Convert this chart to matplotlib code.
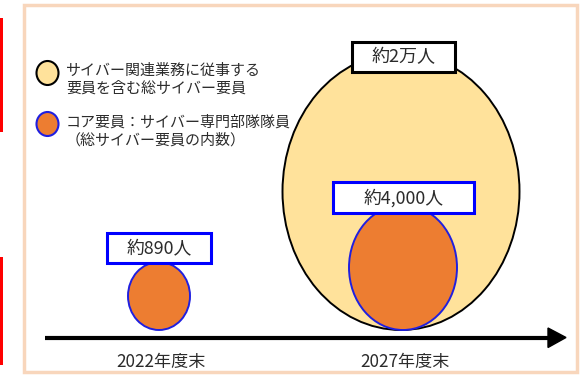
import matplotlib.pyplot as plt
from matplotlib.patches import Ellipse, Rectangle, Polygon

plt.rcParams["font.family"] = ["Noto Sans CJK JP", "DejaVu Sans"]

# データ
years = ["2022年度末", "2027年度末"]
core_staff = [890, 4000]          # コア要員
total_staff = [None, 20000]       # 総サイバー要員
core_labels = ["約890人", "約4,000人"]
total_labels = [None, "約2万人"]
legend_texts = [
    "サイバー関連業務に従事する\n要員を含む総サイバー要員",
    "コア要員：サイバー専門部隊隊員\n（総サイバー要員の内数）",
]

YELLOW = "#FFE29B"
ORANGE = "#ED7D31"
BLUE = "#1F1FE0"
TEXT = "#2B2B2B"

# 描画サイズ（ピクセル座標）
x_pos = [159, 403]
base_y = 330
core_size = [(62, 68), (108, 125)]
total_size = [None, (237, 277)]
total_x = 401

fig = plt.figure(figsize=(5.81, 3.76), dpi=100)
ax = fig.add_axes([0, 0, 1, 1])
ax.set_xlim(0, 581)
ax.set_ylim(376, 0)
ax.axis("off")

# 外枠
ax.add_patch(Rectangle((23.5, 4.5), 553, 367, fill=False, ec="#F8D6BC", lw=2.5))
# 左側の赤い帯
ax.add_patch(Rectangle((0, 18), 3, 114, color="#FF0000", lw=0))
ax.add_patch(Rectangle((0, 257), 3, 108, color="#FF0000", lw=0))

# 凡例
ax.add_patch(Ellipse((47.5, 73), 22, 24, fc=YELLOW, ec="black", lw=1.5))
ax.add_patch(Ellipse((47.5, 124), 22, 24, fc=ORANGE, ec=BLUE, lw=1.5))
ax.text(66, 80, legend_texts[0], fontsize=10.8, color=TEXT, va="center",
        linespacing=1.3)
ax.text(66, 131, legend_texts[1], fontsize=10.8, color=TEXT, va="center",
        linespacing=1.3)

# 総サイバー要員（楕円）
for i, val in enumerate(total_staff):
    if val is None:
        continue
    w, h = total_size[i]
    ax.add_patch(Ellipse((total_x, base_y - h / 2), w, h, fc=YELLOW,
                         ec="black", lw=1.4, zorder=2))
    ax.add_patch(Rectangle((352, 41.5), 103, 30, fc="white", ec="black",
                           lw=2.2, zorder=5))
    ax.text(403.5, 57, total_labels[i], fontsize=13, color=TEXT,
            ha="center", va="center", zorder=6)

# コア要員（楕円）
label_boxes = [(107, 232.5, 104, 30), (333, 182, 141, 31)]
for i, val in enumerate(core_staff):
    w, h = core_size[i]
    ax.add_patch(Ellipse((x_pos[i], base_y - h / 2), w, h, fc=ORANGE,
                         ec=BLUE, lw=1.4, zorder=3))
    bx, by, bw, bh = label_boxes[i]
    ax.add_patch(Rectangle((bx, by), bw, bh, fc="white", ec="#0000FF",
                           lw=2.2, zorder=5))
    ax.text(bx + bw / 2, by + bh / 2 + 0.5, core_labels[i], fontsize=12.8,
            color=TEXT, ha="center", va="center", zorder=6)

# 時間軸
ax.plot([45, 552], [337.5, 337.5], color="black", lw=3, solid_capstyle="butt",
        zorder=4)
ax.add_patch(Polygon([(548, 328), (548, 347.5), (566, 337.5)], closed=True,
                     color="black", zorder=4))

for i, yr in enumerate(years):
    ax.text(x_pos[i] + 2, 362, yr, fontsize=12.3, color=TEXT, ha="center",
            va="center")

fig.savefig("out.png", dpi=100)
